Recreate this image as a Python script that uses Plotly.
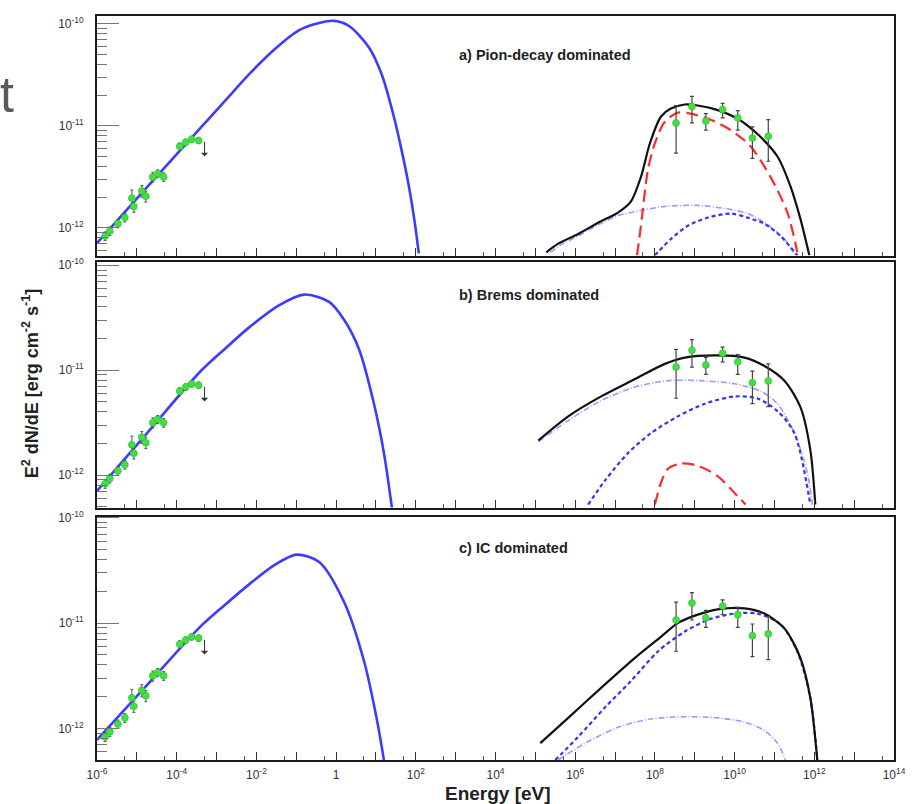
import numpy as np
import plotly.graph_objects as go

# ---------------- data (log10 E [eV], log10 E^2 dN/dE [erg cm^-2 s^-1]) ----------------
# X-ray data (same in all panels)
xray_E = [1.6e-6, 2.1e-6, 3.35e-6, 5.0e-6, 7.5e-6, 8.4e-6, 1.33e-5, 1.68e-5,
          2.5e-5, 3.35e-5, 4.7e-5, 1.19e-4, 1.68e-4, 2.37e-4, 3.55e-4]
xray_F = [8.3e-13, 9.3e-13, 1.10e-12, 1.26e-12, 1.95e-12, 1.62e-12, 2.3e-12, 2.04e-12,
          3.16e-12, 3.4e-12, 3.16e-12, 6.3e-12, 6.9e-12, 7.4e-12, 7.2e-12]
xray_err = [0.8e-13, 0.9e-13, 1.0e-13, 1.2e-13, 0.4e-12, 0.2e-12, 0.3e-12, 0.25e-12,
            0.35e-12, 0.3e-12, 0.3e-12, 0.5e-12, 0.5e-12, 0.5e-12, 0.5e-12]
xray_ul_E = 5.0e-4
xray_ul_F = 7.0e-12

# Gamma-ray data (same in all panels)
gam_E = [3.4e8, 8.5e8, 1.9e9, 5.0e9, 1.2e10, 2.8e10, 7.0e10]
gam_F = [1.07e-11, 1.55e-11, 1.12e-11, 1.45e-11, 1.20e-11, 7.6e-12, 7.9e-12]
gam_hi = [1.58e-11, 1.95e-11, 1.32e-11, 1.66e-11, 1.41e-11, 9.8e-12, 1.15e-11]
gam_lo = [5.4e-12, 1.07e-11, 9.1e-12, 1.20e-11, 9.1e-12, 4.8e-12, 4.5e-12]

# ---- panel a) Pion-decay dominated ----
a_sync_logE = [-6.0, -4.7, -3.425, -2.8, -2.175, -1.55, -0.925, -0.425, -0.05, 0.325, 0.825, 1.15, 1.45, 1.65, 1.825, 1.975, 2.075]
a_sync_logF = [-12.15, -11.58, -11.03, -10.76, -10.49, -10.25, -10.06, -9.99, -9.97, -10.02, -10.23, -10.50, -10.91, -11.25, -11.59, -11.95, -12.25]
a_tot_logE = [5.275, 5.575, 6.075, 6.575, 7.075, 7.40, 7.65, 7.875, 8.15, 8.40, 8.75, 9.075, 9.575, 10.075, 10.575, 11.075, 11.40, 11.65, 11.875]
a_tot_logF = [-12.24, -12.155, -12.06, -11.95, -11.85, -11.74, -11.50, -11.17, -10.91, -10.83, -10.79, -10.80, -10.845, -10.93, -11.08, -11.30, -11.59, -11.91, -12.27]
a_pi_logE = [7.55, 7.65, 7.825, 8.0, 8.25, 8.575, 8.90, 9.40, 9.90, 10.40, 10.90, 11.325, 11.575]
a_pi_logF = [-12.27, -11.98, -11.43, -11.17, -10.96, -10.87, -10.88, -10.94, -11.04, -11.20, -11.50, -11.85, -12.24]
a_br_logE = [5.375, 5.70, 6.075, 6.575, 7.075, 7.65, 8.25, 9.075, 9.75, 10.325, 10.825, 11.25, 11.525]
a_br_logF = [-12.24, -12.155, -12.08, -11.97, -11.88, -11.83, -11.79, -11.78, -11.81, -11.86, -11.97, -12.11, -12.27]
a_ic_logE = [8.0, 8.40, 8.825, 9.325, 9.90, 10.325, 10.75, 11.15, 11.575]
a_ic_logF = [-12.27, -12.11, -11.98, -11.90, -11.86, -11.90, -11.96, -12.08, -12.27]

# ---- panel b) Brems dominated ----
b_sync_logE = [-6.0, -4.7, -3.425, -2.8, -2.175, -1.425, -0.8, -0.175, 0.2, 0.575, 0.95, 1.2, 1.4]
b_sync_logF = [-12.15, -11.58, -11.02, -10.80, -10.59, -10.38, -10.28, -10.35, -10.52, -10.80, -11.32, -11.79, -12.31]
b_tot_logE = [5.075, 5.825, 6.65, 7.50, 8.25, 8.75, 9.575, 10.25, 10.75, 11.25, 11.65, 11.90, 12.025]
b_tot_logF = [-11.67, -11.44, -11.25, -11.085, -10.94, -10.88, -10.86, -10.88, -10.96, -11.10, -11.35, -11.76, -12.28]
b_br_logE = [5.075, 5.825, 6.65, 7.50, 8.325, 9.15, 10.0, 10.65, 11.075, 11.50, 11.825, 11.95]
b_br_logF = [-11.68, -11.48, -11.29, -11.16, -11.10, -11.10, -11.13, -11.20, -11.32, -11.60, -11.98, -12.28]
b_ic_logE = [6.325, 6.75, 7.325, 7.90, 8.575, 9.25, 10.0, 10.575, 11.075, 11.50, 11.90]
b_ic_logF = [-12.28, -12.05, -11.79, -11.60, -11.44, -11.32, -11.25, -11.27, -11.39, -11.60, -12.28]
b_pi_logE = [8.0, 8.15, 8.325, 8.65, 9.075, 9.575, 10.0, 10.275]
b_pi_logF = [-12.28, -12.075, -11.94, -11.89, -11.91, -12.01, -12.17, -12.28]

# ---- panel c) IC dominated ----
c_sync_logE = [-6.0, -4.7, -3.425, -2.8, -2.175, -1.55, -1.0, -0.425, 0.2, 0.7, 1.025, 1.2]
c_sync_logF = [-12.11, -11.57, -11.04, -10.83, -10.63, -10.45, -10.35, -10.42, -10.80, -11.36, -11.92, -12.30]
c_tot_logE = [5.125, 5.825, 6.65, 7.50, 8.15, 8.575, 9.075, 9.575, 10.25, 10.75, 11.25, 11.65, 11.90, 12.075]
c_tot_logF = [-12.14, -11.90, -11.615, -11.33, -11.13, -11.00, -10.92, -10.87, -10.86, -10.91, -11.05, -11.33, -11.71, -12.30]
c_ic_logE = [5.50, 6.075, 6.75, 7.40, 8.075, 8.75, 9.40, 10.0, 10.575, 11.15, 11.575, 11.90, 12.075]
c_ic_logF = [-12.30, -12.08, -11.80, -11.55, -11.27, -11.08, -10.96, -10.91, -10.91, -11.01, -11.27, -11.71, -12.30]
c_br_logE = [5.575, 6.25, 7.075, 7.90, 8.75, 9.575, 10.25, 10.75, 11.075, 11.275]
c_br_logF = [-12.30, -12.14, -11.99, -11.91, -11.89, -11.90, -11.94, -12.02, -12.14, -12.30]

panel_titles = ["a) Pion-decay dominated", "b) Brems dominated", "c) IC dominated"]
x_tick_labels = ["10<sup>-6</sup>", "10<sup>-4</sup>", "10<sup>-2</sup>", "1", "10<sup>2</sup>",
                 "10<sup>4</sup>", "10<sup>6</sup>", "10<sup>8</sup>", "10<sup>10</sup>",
                 "10<sup>12</sup>", "10<sup>14</sup>"]
y_tick_labels = ["10<sup>-12</sup>", "10<sup>-11</sup>", "10<sup>-10</sup>"]

# ---------------- styles ----------------
SYNC = dict(color="#3c3cff", width=2.6)
TOT = dict(color="#111111", width=2.2)
PI = dict(color="#ff2a2a", width=2.2, dash="12px,6px")
BR = dict(color="#9a9aff", width=1.6, dash="6px,2px,1px,2px")
IC = dict(color="#3535ee", width=2.2, dash="4px,3px")
GREEN = "#3fe03f"
FONT = "Liberation Sans, Arial, Helvetica, sans-serif"

fig = go.Figure()


def p(v):
    return list(np.power(10.0, np.array(v)))


panels = [
    dict(sync=(a_sync_logE, a_sync_logF), lines=[(a_br_logE, a_br_logF, BR), (a_ic_logE, a_ic_logF, IC),
                                               (a_pi_logE, a_pi_logF, PI), (a_tot_logE, a_tot_logF, TOT)]),
    dict(sync=(b_sync_logE, b_sync_logF), lines=[(b_br_logE, b_br_logF, BR), (b_ic_logE, b_ic_logF, IC),
                                               (b_pi_logE, b_pi_logF, PI), (b_tot_logE, b_tot_logF, TOT)]),
    dict(sync=(c_sync_logE, c_sync_logF), lines=[(c_br_logE, c_br_logF, BR), (c_ic_logE, c_ic_logF, IC),
                                               (c_tot_logE, c_tot_logF, TOT)]),
]

for i, pan in enumerate(panels):
    xa = "x" if i == 0 else f"x{i+1}"
    ya = "y" if i == 0 else f"y{i+1}"
    fig.add_trace(go.Scatter(x=p(pan["sync"][0]), y=p(pan["sync"][1]), mode="lines",
                             line=dict(shape="spline", smoothing=0.8, **SYNC), xaxis=xa, yaxis=ya))
    for le, lf, st in pan["lines"]:
        fig.add_trace(go.Scatter(x=p(le), y=p(lf), mode="lines",
                                 line=dict(shape="spline", smoothing=0.8, **st), xaxis=xa, yaxis=ya))
    # X-ray data
    fig.add_trace(go.Scatter(x=xray_E, y=xray_F, mode="markers",
                             marker=dict(color=GREEN, size=7, line=dict(color="#30b030", width=0.5)),
                             error_y=dict(type="data", array=xray_err, color="#555555", thickness=1, width=1.5),
                             xaxis=xa, yaxis=ya))
    # gamma data
    fig.add_trace(go.Scatter(x=gam_E, y=gam_F, mode="markers",
                             marker=dict(color=GREEN, size=7, line=dict(color="#30b030", width=0.5)),
                             error_y=dict(type="data", symmetric=False,
                                          array=[h - f for h, f in zip(gam_hi, gam_F)],
                                          arrayminus=[f - l for f, l in zip(gam_F, gam_lo)],
                                          color="#444444", thickness=1.2, width=2),
                             xaxis=xa, yaxis=ya))
    # upper limit arrow
    fig.add_annotation(x=np.log10(xray_ul_E), y=np.log10(xray_ul_F * 0.72), xref=xa, yref=ya,
                       ax=0, ay=-16, axref="pixel", ayref="pixel", text="", showarrow=True,
                       arrowhead=1, arrowsize=1.2, arrowwidth=1, arrowcolor="#333333")

# ---------------- axes ----------------
ranges = [[-12.272, -9.922], [-12.311, -9.972], [-12.30, -9.99]]
domains = [[0.678, 1.0], [0.339, 0.669], [0.0, 0.327]]
x_major = [10.0 ** k for k in range(-6, 15)]
x_text = []
for k in range(-6, 15):
    x_text.append(x_tick_labels[(k + 6) // 2] if (k + 6) % 2 == 0 else "")
x_minor = [5 * 10.0 ** k for k in range(-6, 14)]
y_major = [1e-12, 1e-11, 1e-10]
y_minor = [m * 10.0 ** k for k in range(-13, -9) for m in range(2, 10)]

layout = dict(width=914, height=804, margin=dict(l=97, r=17, t=8, b=44),
              paper_bgcolor="white", plot_bgcolor="white", showlegend=False,
              font=dict(family=FONT, color="#222222"))
for i in range(3):
    xk = "xaxis" if i == 0 else f"xaxis{i+1}"
    yk = "yaxis" if i == 0 else f"yaxis{i+1}"
    ya = "y" if i == 0 else f"y{i+1}"
    xa = "x" if i == 0 else f"x{i+1}"
    layout[xk] = dict(type="log", range=[-6, 14], domain=[0, 1], anchor=ya,
                      showline=True, mirror=True, linecolor="#1a1a1a", linewidth=2,
                      showgrid=False, zeroline=False, ticks="inside", ticklen=8, tickcolor="#333",
                      tickmode="array", tickvals=x_major, ticktext=x_text,
                      showticklabels=(i == 2), tickfont=dict(size=12, color="#333"),
                      ticklabelstandoff=3,
                      minor=dict(tickmode="array", tickvals=x_minor, ticks="inside", ticklen=4,
                                 tickcolor="#555", showgrid=False))
    layout[yk] = dict(type="log", range=ranges[i], domain=domains[i], anchor=xa,
                      showline=True, mirror=True, linecolor="#1a1a1a", linewidth=2,
                      showgrid=False, zeroline=False, ticks="inside", ticklen=22, tickcolor="#777",
                      tickmode="array", tickvals=y_major, ticktext=y_tick_labels,
                      tickfont=dict(size=12, color="#333"), ticklabelstandoff=9,
                      minor=dict(tickmode="array", tickvals=y_minor, ticks="inside", ticklen=10,
                                 tickcolor="#777", showgrid=False))
fig.update_layout(**layout)

# ---------------- texts ----------------
def px_x(px):
    return (px - 97) / 800.0


def px_y(py):
    return (760 - py) / 752.0


title_pos = [(458, 47), (458, 290), (458, 546)]
for t, (tx, ty) in zip(panel_titles, title_pos):
    fig.add_annotation(text=f"<b>{t}</b>", xref="paper", yref="paper", x=px_x(tx), y=px_y(ty),
                       showarrow=False, font=dict(size=14.5, color="#222", family=FONT),
                       xanchor="left", yanchor="middle")

fig.add_annotation(text="<b>Energy [eV]</b>", xref="paper", yref="paper", x=px_x(500), y=px_y(794),
                   showarrow=False, font=dict(size=19, color="#222", family=FONT),
                   xanchor="center", yanchor="middle")
fig.add_annotation(text="<b>E<sup>2</sup> dN/dE [erg cm<sup>-2</sup> s<sup>-1</sup>]</b>",
                   xref="paper", yref="paper", x=px_x(30), y=px_y(380), textangle=-90,
                   showarrow=False, font=dict(size=18, color="#222", family=FONT),
                   xanchor="center", yanchor="middle")
fig.add_annotation(text="t", xref="paper", yref="paper", x=px_x(-2), y=px_y(88),
                   showarrow=False, font=dict(size=50, color="#5a5a5a", family=FONT),
                   xanchor="left", yanchor="middle")

fig.write_html("out.html")
